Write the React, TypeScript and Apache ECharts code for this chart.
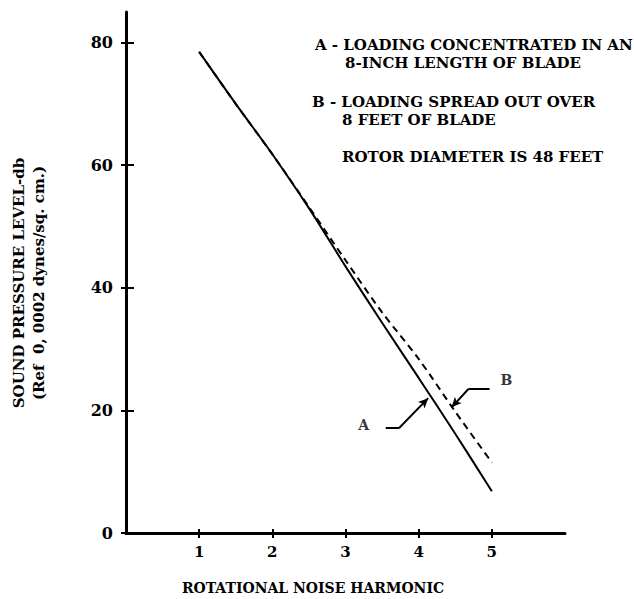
import React, { useEffect, useRef } from "react";
import * as echarts from "echarts";

const harmonics = [1, 1.5, 2, 2.5, 3, 3.5, 4, 4.5, 5];
const curveA = [78.5, 70.0, 61.8, 53.0, 43.5, 34.3, 25.3, 16.2, 6.8];
const curveB = [78.5, 70.0, 61.8, 53.2, 44.5, 36.0, 28.4, 19.8, 11.5];
const xTicks = [1, 2, 3, 4, 5];
const yTicks = [0, 20, 40, 60, 80];
const leaderA = [[3.55, 17.1], [3.73, 17.1], [4.13, 22.0]];
const leaderB = [[4.97, 23.5], [4.68, 23.5], [4.45, 20.5]];
const curveLabels = [
  { name: "A", value: [3.25, 17.6] },
  { name: "B", value: [5.2, 24.9] },
];
const noteLines = [
  "A - LOADING CONCENTRATED IN AN",
  "8-INCH LENGTH OF BLADE",
  "B - LOADING SPREAD OUT OVER",
  "8 FEET OF BLADE",
  "ROTOR DIAMETER IS 48 FEET",
];
const yTitle = "SOUND PRESSURE LEVEL-db\n(Ref  0, 0002 dynes/sq. cm.)";
const xTitle = "ROTATIONAL NOISE HARMONIC";

const FONT = "'DejaVu Serif', 'Liberation Serif', serif";

function leaderMarkLine(pts: number[][]) {
  return {
    silent: true,
    animation: false,
    symbol: ["none", "none"],
    lineStyle: { color: "#000", width: 2, type: "solid" },
    label: { show: false },
    data: [
      [{ coord: pts[0], symbol: "none" }, { coord: pts[1], symbol: "none" }],
      [{ coord: pts[1], symbol: "none" }, { coord: pts[2], symbol: "arrow", symbolSize: [7, 10] }],
    ],
  };
}

export default function App() {
  const ref = useRef<HTMLDivElement>(null);
  useEffect(() => {
    if (!ref.current) return;
    const chart = echarts.init(ref.current, null, { renderer: "svg" });
    const notePos = [
      [315, 45],
      [345, 63],
      [312, 102],
      [342, 120],
      [342, 157],
    ];
    chart.setOption({
      animation: false,
      backgroundColor: "#fff",
      textStyle: { fontFamily: FONT },
      grid: { left: 126, top: 12, width: 439, height: 521 },
      xAxis: [
        {
          type: "value",
          min: 0,
          max: 6,
          axisLine: { show: true, lineStyle: { color: "#000", width: 3 } },
          axisTick: { show: true, customValues: xTicks, length: 5, lineStyle: { color: "#000", width: 2 } },
          axisLabel: {
            customValues: xTicks,
            color: "#000",
            fontFamily: FONT,
            fontWeight: "bold",
            fontSize: 15,
            margin: 11,
          },
          splitLine: { show: false },
        },
        {
          type: "value",
          min: 0,
          max: 6,
          position: "bottom",
          axisLine: { show: false },
          axisTick: { show: true, inside: true, customValues: xTicks, length: 4, lineStyle: { color: "#000", width: 2 } },
          axisLabel: { show: false },
          splitLine: { show: false },
        },
      ],
      yAxis: [
        {
          type: "value",
          min: 0,
          max: 85,
          axisLine: { show: true, lineStyle: { color: "#000", width: 3 } },
          axisTick: { show: true, customValues: yTicks, length: 5, lineStyle: { color: "#000", width: 2 } },
          axisLabel: {
            customValues: yTicks,
            color: "#000",
            fontFamily: FONT,
            fontWeight: "bold",
            fontSize: 16,
            margin: 13,
          },
          splitLine: { show: false },
        },
        {
          type: "value",
          min: 0,
          max: 85,
          position: "left",
          axisLine: { show: false },
          axisTick: { show: true, inside: true, customValues: yTicks, length: 8, lineStyle: { color: "#000", width: 2 } },
          axisLabel: { show: false },
          splitLine: { show: false },
        },
      ],
      series: [
        {
          type: "line",
          name: "B",
          data: harmonics.map((h, i) => [h, curveB[i]]),
          smooth: 0.3,
          showSymbol: false,
          lineStyle: { color: "#000", width: 2, type: [7, 5] },
          z: 3,
        },
        {
          type: "line",
          name: "A",
          data: harmonics.map((h, i) => [h, curveA[i]]),
          smooth: 0.3,
          showSymbol: false,
          lineStyle: { color: "#000", width: 2 },
          z: 4,
        },
        {
          type: "line",
          name: "leaderA",
          data: [],
          markLine: leaderMarkLine(leaderA),
        },
        {
          type: "line",
          name: "leaderB",
          data: [],
          markLine: leaderMarkLine(leaderB),
        },
        {
          type: "scatter",
          name: "labels",
          symbolSize: 0,
          data: curveLabels,
          label: {
            show: true,
            position: "inside",
            formatter: "{b}",
            color: "#000",
            fontFamily: FONT,
            fontWeight: "bold",
            fontSize: 14,
          },
        },
      ],
      graphic: [
        ...noteLines.map((t, i) => ({
          type: "text",
          x: notePos[i][0],
          y: notePos[i][1],
          style: {
            text: t,
            fill: "#000",
            font: `bold 15px ${FONT}`,
            textAlign: "left",
            textVerticalAlign: "middle",
          },
        })),
        {
          type: "text",
          x: 29,
          y: 283,
          rotation: Math.PI / 2,
          style: {
            text: yTitle,
            fill: "#000",
            font: `bold 15px ${FONT}`,
            lineHeight: 20,
            textAlign: "center",
            textVerticalAlign: "middle",
          },
        },
        {
          type: "text",
          x: 313,
          y: 588,
          style: {
            text: xTitle,
            fill: "#000",
            font: `bold 14px ${FONT}`,
            textAlign: "center",
            textVerticalAlign: "middle",
          },
        },
      ],
    });
    return () => chart.dispose();
  }, []);
  return (
    <div
      ref={ref}
      style={{ position: "fixed", left: 0, top: 0, width: 634, height: 599, background: "#fff" }}
    />
  );
}
